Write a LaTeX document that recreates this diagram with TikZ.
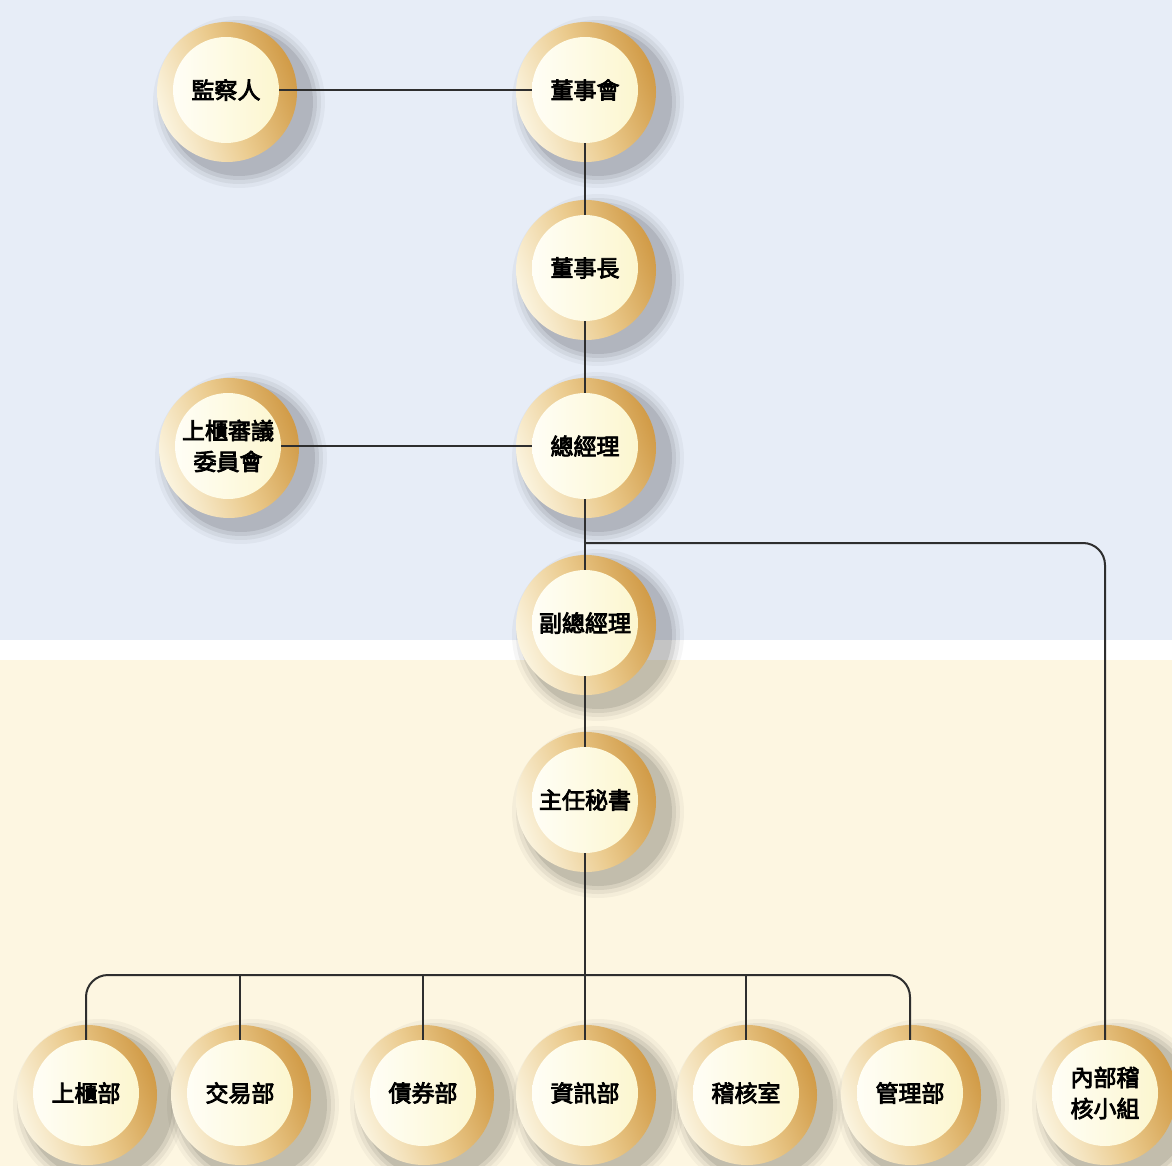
\documentclass[tikz,border=0pt]{standalone}
\usepackage{fontspec}
\newfontfamily\cjk[FakeBold=3.5]{Noto Sans CJK TC}
\usetikzlibrary{calc}
\pgfdeclarelayer{bg}
\pgfdeclarelayer{ringlayer}
\pgfdeclarelayer{wires}
\pgfsetlayers{bg,ringlayer,wires,main}
\definecolor{skyc}{HTML}{E7EDF7}
\definecolor{sandc}{HTML}{FDF6E1}
\definecolor{creamc}{HTML}{FCF6CF}
\definecolor{creamlight}{HTML}{FFFEF6}
\definecolor{ringlight}{HTML}{FBF4DF}
\definecolor{ringmid}{HTML}{EBCB8E}
\definecolor{ringdark}{HTML}{D19B47}
\definecolor{wirec}{HTML}{2E2E2E}
\tikzset{
  org/.style={circle, minimum size=106pt, inner sep=0pt,
    left color=creamlight, middle color=creamc, right color=creamc,
    font=\cjk\fontsize{23}{31}\selectfont, align=center, text=black},
  wire/.style={draw=wirec, line width=2pt},
  ringfill/.style={left color=ringlight, right color=ringdark, middle color=ringmid, shading angle=110}
}
\begin{document}
\begin{tikzpicture}[x=1pt,y=-1pt]
\useasboundingbox (0,0) rectangle (1172,1166);
\begin{pgfonlayer}{bg}
  \fill[skyc] (0,0) rectangle (1172,640);
  \fill[white] (0,640) rectangle (1172,660);
  \fill[sandc] (0,660) rectangle (1172,1166);
\end{pgfonlayer}

% nodes
\node[org] (jcr)  at (226,90)  {監察人};
\node[org] (dsh)  at (585,90)  {董事會};
\node[org] (dsz)  at (585,268) {董事長};
\node[org] (sgw)  at (228,446) {上櫃審議\\委員會};
\node[org] (zjl)  at (585,446) {總經理};
\node[org] (fzjl) at (585,623) {副總經理};
\node[org] (zrms) at (585,800) {主任秘書};
\node[org] (b1) at (86,1093)  {上櫃部};
\node[org] (b2) at (240,1093) {交易部};
\node[org] (b3) at (423,1093) {債券部};
\node[org] (b4) at (585,1093) {資訊部};
\node[org] (b5) at (746,1093) {稽核室};
\node[org] (b6) at (910,1093) {管理部};
\node[org] (b7) at (1105,1093) {內部稽\\核小組};

\coordinate (bus) at (585,975);
\coordinate (br) at (585,543);

% rings and shadows
\begin{pgfonlayer}{ringlayer}
\foreach \n in {jcr,dsh,dsz,sgw,zjl,fzjl,zrms,b1,b2,b3,b4,b5,b6,b7}{
  \foreach \r/\o in {86pt/0.035,82pt/0.05,78pt/0.07,74pt/0.09}{
    \fill[black,opacity=\o] ($(\n.center)+(13,12)$) circle (\r);
  }
  \shade[ringfill] ($(\n.center)+(1,2)$) circle (70pt);
}
\end{pgfonlayer}

% connectors
\begin{pgfonlayer}{wires}
  \draw[wire] (jcr) -- (dsh);
  \draw[wire] (sgw) -- (zjl);
  \draw[wire] (dsh) -- (dsz);
  \draw[wire] (dsz) -- (zjl);
  \draw[wire] (zjl) -- (fzjl);
  \draw[wire] (fzjl) -- (zrms);
  \draw[wire] (zrms) -- (b4);
  \draw[wire, rounded corners=22pt] (b1) |- (bus) -| (b6);
  \draw[wire] (b2) -- (b2 |- bus);
  \draw[wire] (b3) -- (b3 |- bus);
  \draw[wire] (b5) -- (b5 |- bus);
  \draw[wire, rounded corners=22pt] (br) -| (b7);
\end{pgfonlayer}
\end{tikzpicture}
\end{document}
